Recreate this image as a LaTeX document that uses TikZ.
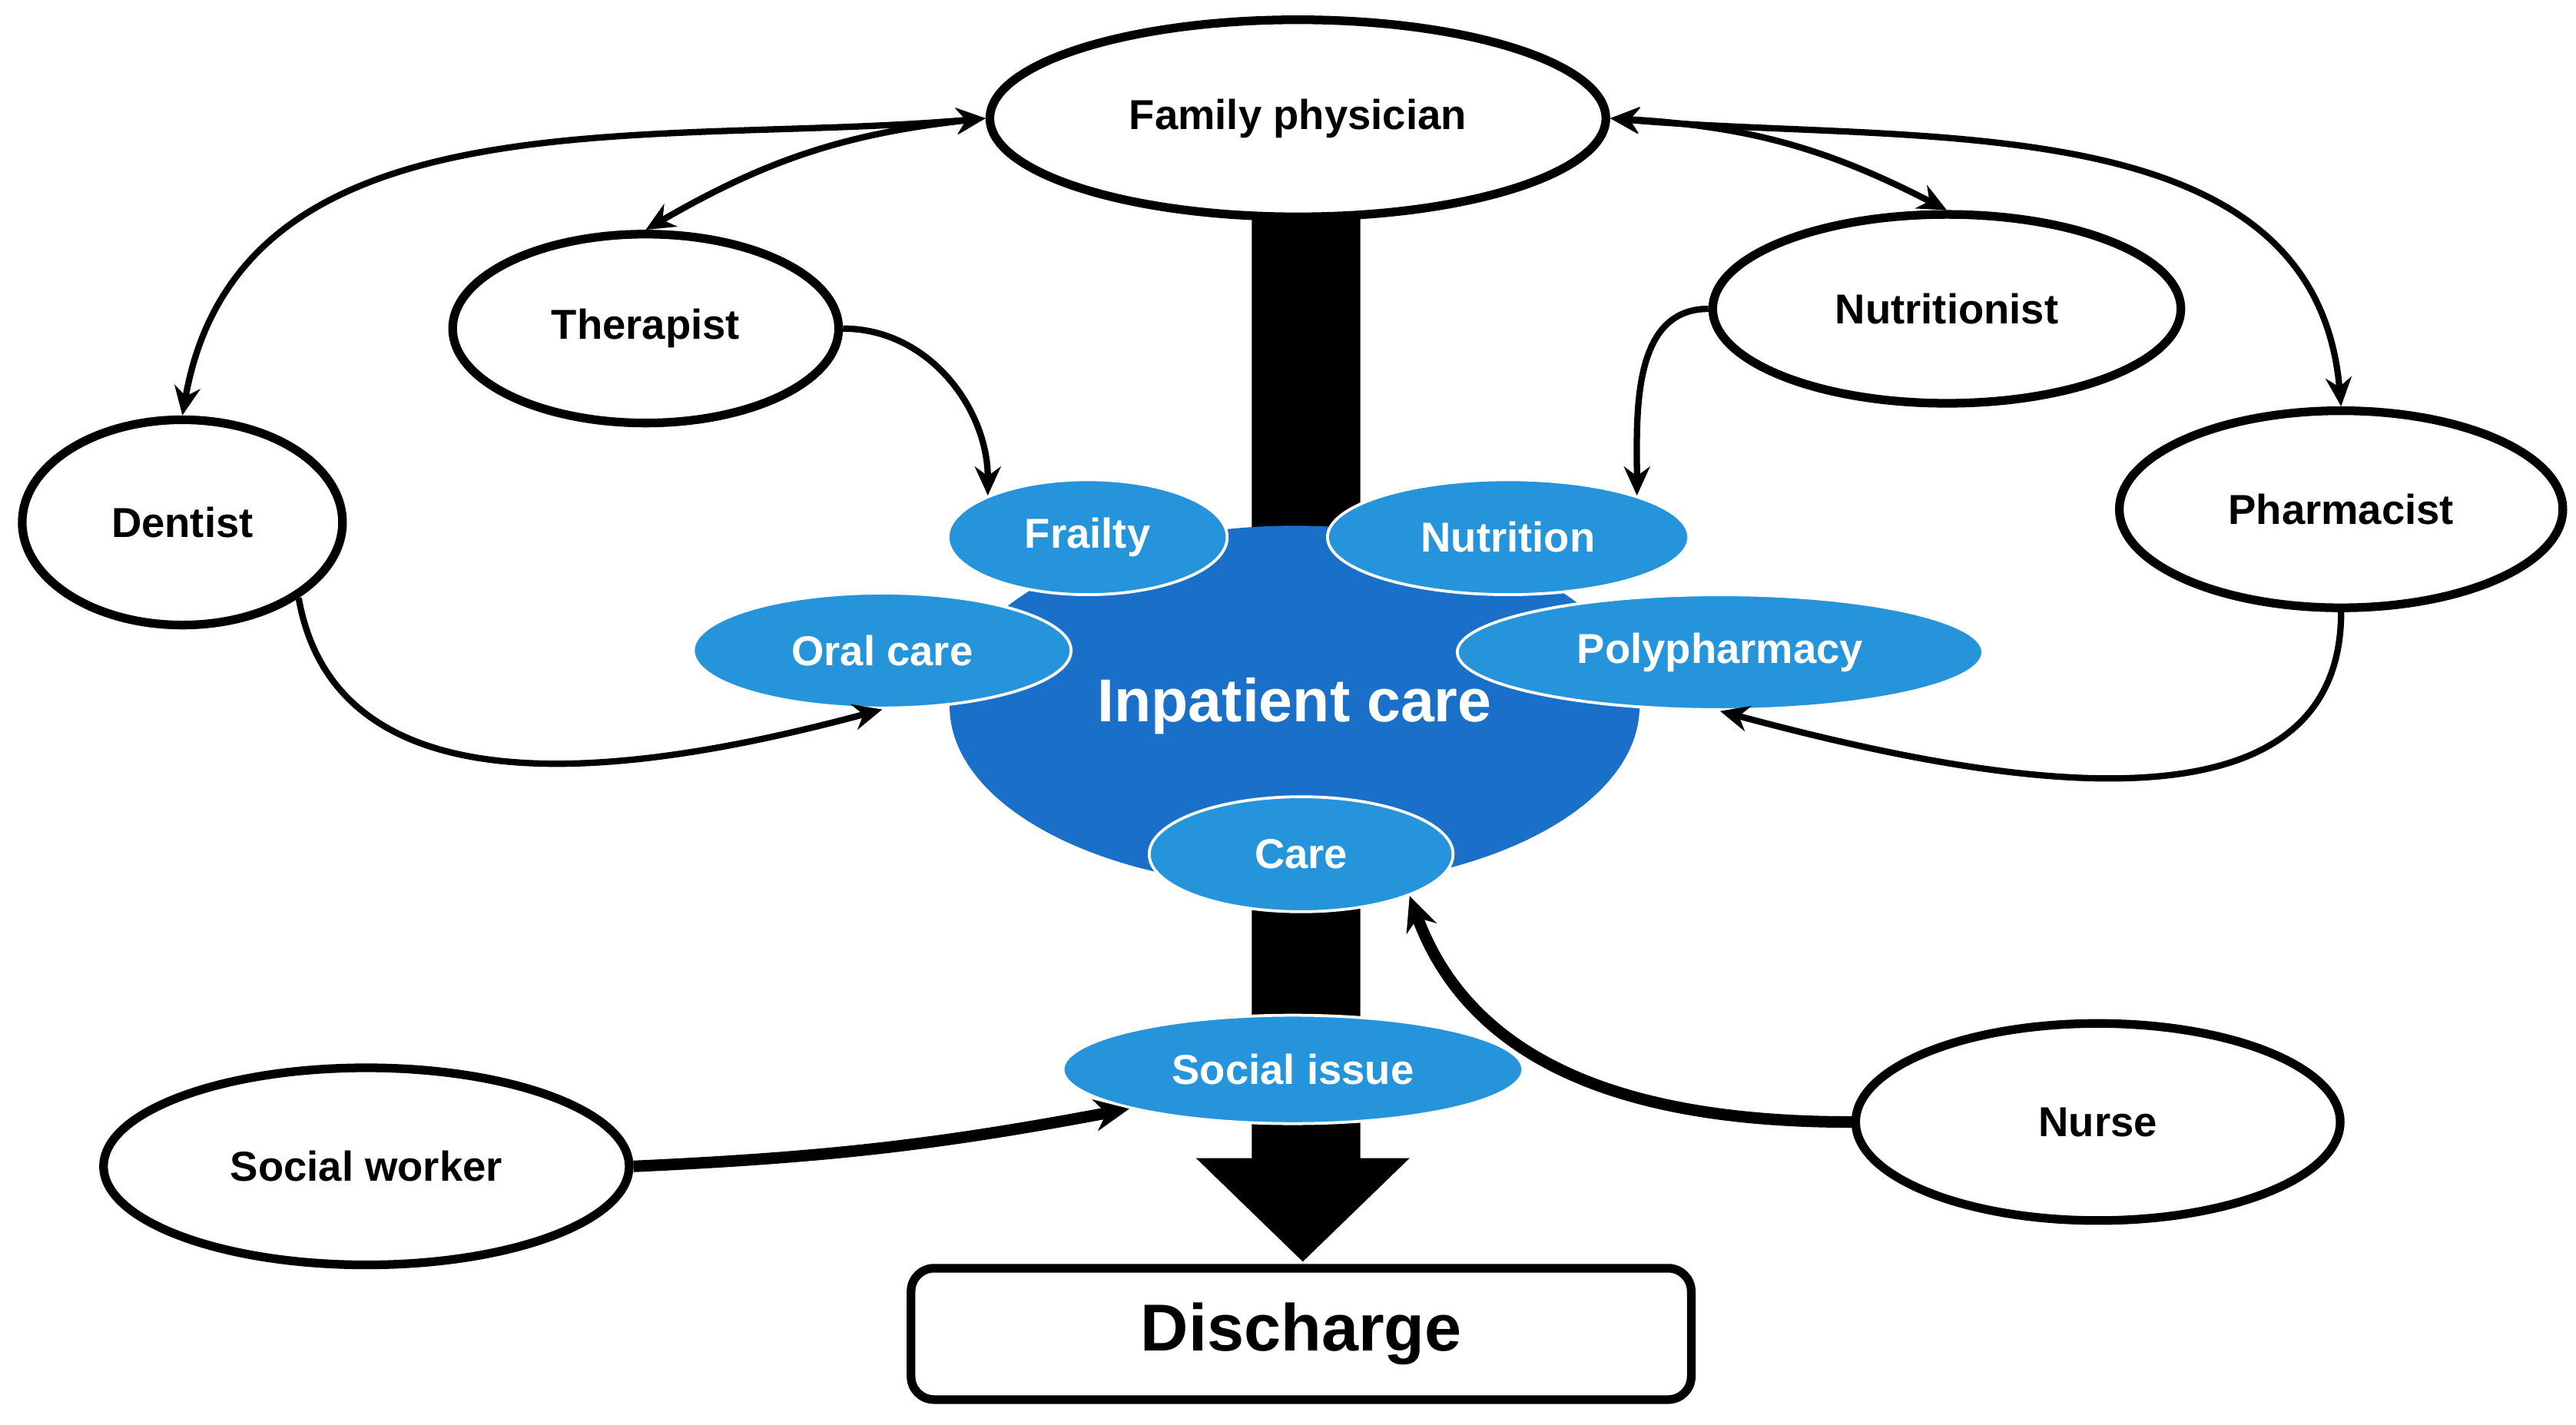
\documentclass[tikz,border=0pt]{standalone}
\usepackage{fontspec}
\setmainfont{Liberation Sans}
\usetikzlibrary{shapes.geometric,arrows.meta}
\definecolor{blobblue}{RGB}{26,112,200}
\definecolor{itemblue}{RGB}{38,148,218}
\tikzset{
  pers/.style={ellipse,draw=black,line width=3pt,fill=white,font=\bfseries\fontsize{14.5}{16}\selectfont,inner sep=0pt},
  item/.style={ellipse,draw=white,line width=1pt,fill=itemblue,text=white,font=\bfseries\fontsize{14.5}{16}\selectfont,inner sep=0pt},
  link/.style={line width=2.2pt,-{Stealth[length=10pt,width=9pt]}},
  both/.style={link,{Stealth[length=10pt,width=9pt]}-{Stealth[length=10pt,width=9pt]}},
  strong/.style={line width=4pt,-{Stealth[length=12pt,width=11pt]}}
}
\begin{document}
\begin{tikzpicture}[x=0.02cm,y=-0.02cm]
  \useasboundingbox (0,0) rectangle (1568,867);
  % main flow
  \fill[black] (762,130) -- (828,130) -- (828,705) -- (858,705) -- (793,768) -- (728,705) -- (762,705) -- cycle;
  \node[ellipse,fill=blobblue,minimum width=8.4cm,minimum height=4.4cm] (inp) at (788,430) {};
  \node[text=white,font=\bfseries\fontsize{21}{24}\selectfont] (inpl) at (788,430) {Inpatient care};
  % care items
  \node[item,minimum width=3.4cm,minimum height=1.4cm] (fra) at (662,327) {Frailty};
  \node[item,minimum width=4.4cm,minimum height=1.4cm] (nut) at (918,327) {Nutrition};
  \node[item,minimum width=4.6cm,minimum height=1.4cm] (ora) at (537,396) {Oral care};
  \node[item,minimum width=6.4cm,minimum height=1.4cm] (pol) at (1047,397) {Polypharmacy};
  \node[item,minimum width=3.7cm,minimum height=1.4cm] (car) at (792,520) {Care};
  \node[item,minimum width=5.6cm,minimum height=1.32cm] (soc) at (787,651) {Social issue};
  % people
  \node[pers,minimum width=7.5cm,minimum height=2.4cm] (fam) at (790,72) {Family physician};
  \node[pers,minimum width=4.7cm,minimum height=2.3cm] (the) at (393,200) {Therapist};
  \node[pers,minimum width=5.7cm,minimum height=2.3cm] (ntr) at (1185,188) {Nutritionist};
  \node[pers,minimum width=3.9cm,minimum height=2.5cm] (den) at (111,318) {Dentist};
  \node[pers,minimum width=5.4cm,minimum height=2.4cm] (pha) at (1425,310) {Pharmacist};
  \node[pers,minimum width=6.4cm,minimum height=2.4cm] (sow) at (223,710) {Social worker};
  \node[pers,minimum width=5.9cm,minimum height=2.4cm] (nur) at (1277,683) {Nurse};
  \node[draw=black,line width=3pt,rounded corners=8pt,minimum width=9.5cm,minimum height=1.6cm,font=\bfseries\fontsize{23}{26}\selectfont] (dis) at (792,812) {Discharge};
  % links
  \draw[both] (fam.west) to[bend right=12] (the.north);
  \draw[both] (fam.west) to[out=185,in=80] (den.north);
  \draw[both] (fam.east) to[bend left=12] (ntr.north);
  \draw[both] (fam.east) to[out=-5,in=95] (pha.north);
  \draw[link] (the.east) to[out=0,in=90] (fra.north west);
  \draw[link] (ntr.west) to[out=180,in=90] (nut.north east);
  \draw[link] (den.south east) to[out=-80,in=195] (ora.south);
  \draw[link] (pha.south) to[out=-90,in=-15] (pol.south);
  \draw[strong] (sow.east) to[bend right=4] (soc.south west);
  \draw[strong] (nur.west) to[out=180,in=-70] (car.south east);
\end{tikzpicture}
\end{document}
